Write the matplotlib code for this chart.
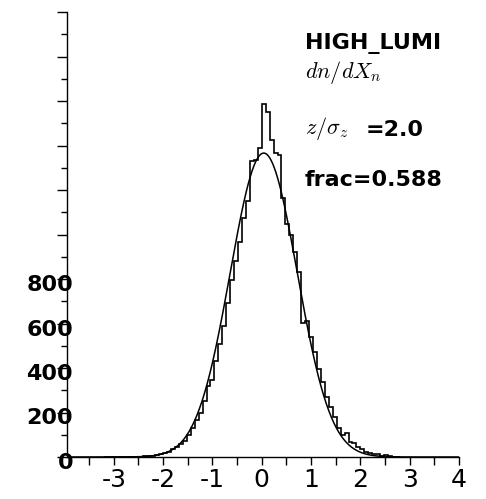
import numpy as np
import matplotlib
matplotlib.use("Agg")
import matplotlib.pyplot as plt
from matplotlib.ticker import MultipleLocator

plt.rcParams['mathtext.fontset'] = 'cm'

# histogram: bins of width 0.08 starting at -3.20
bin_start = -3.20
bin_width = 0.08
counts = [0, 0, 0, 0, 0, 0, 0, 1, 1, 2,
          3, 5, 6, 9, 12, 17, 24, 36, 44, 58,
          72, 98, 132, 166, 200, 250, 320, 345, 430, 510,
          590, 690, 795, 880, 965, 1075, 1150, 1330, 1336, 1389,
          1587, 1551, 1426, 1366, 1359, 1164, 1047, 1000, 923, 833,
          601, 610, 540, 470, 395, 335, 271, 226, 181, 130,
          99, 108, 69, 61, 45, 38, 24, 18, 12, 13,
          5, 7, 3, 2, 1]

# gaussian fit parameters
fit_amp = 1366
fit_mean = 0.04
fit_sigma = 0.68

x_ticks = [-3, -2, -1, 0, 1, 2, 3, 4]
y_ticks = [0, 200, 400, 600, 800]

fig = plt.figure(figsize=(4.86, 4.99), dpi=100)
ax = fig.add_axes([67/486, 1 - 457/499, (459 - 67)/486, (457 - 12)/499])

edges = bin_start + bin_width * np.arange(len(counts) + 1)
ax.stairs(counts, edges, color='black', linewidth=1.2)

xf = np.linspace(-3.95, 4.0, 600)
ax.plot(xf, fit_amp * np.exp(-0.5 * ((xf - fit_mean) / fit_sigma) ** 2),
        color='black', linewidth=1.1)

ax.set_xlim(-3.95, 4.0)
ax.set_ylim(0, 2000)

for s in ['top', 'right']:
    ax.spines[s].set_visible(False)
ax.spines['left'].set_linewidth(1.0)
ax.spines['bottom'].set_linewidth(1.0)

ax.xaxis.set_major_locator(MultipleLocator(0.5))
ax.set_xticklabels([])
ax.tick_params(axis='x', direction='out', length=6, width=1.0)
for v in x_ticks:
    ax.text(v, -0.025, str(v), transform=ax.get_xaxis_transform(),
            ha='center', va='top', fontsize=18)

ax.yaxis.set_major_locator(MultipleLocator(200))
ax.yaxis.set_minor_locator(MultipleLocator(100))
ax.set_yticklabels([])
ax.tick_params(axis='y', which='major', direction='out', length=7, width=1.0)
ax.tick_params(axis='y', which='minor', direction='out', length=4, width=1.0)
for v in y_ticks:
    ax.annotate(str(v), xy=(0, v), xycoords=('axes fraction', 'data'),
                xytext=(6, -6), textcoords='offset pixels',
                ha='right', va='center', fontsize=16, fontweight='bold')

fig.text(305/486, 1 - 44/499, 'HIGH_LUMI', ha='left', va='center',
         fontsize=16, fontweight='bold')
fig.text(305/486, 1 - 72/499, r'$dn/dX_n$', ha='left', va='center', fontsize=16)
fig.text(305/486, 1 - 128/499, r'$z/\sigma_z$', ha='left', va='center', fontsize=16)
fig.text(366/486, 1 - 130/499, '=2.0', ha='left', va='center',
         fontsize=16, fontweight='bold')
fig.text(305/486, 1 - 180/499, 'frac=0.588', ha='left', va='center',
         fontsize=16, fontweight='bold')

fig.savefig('out.png', dpi=100)
